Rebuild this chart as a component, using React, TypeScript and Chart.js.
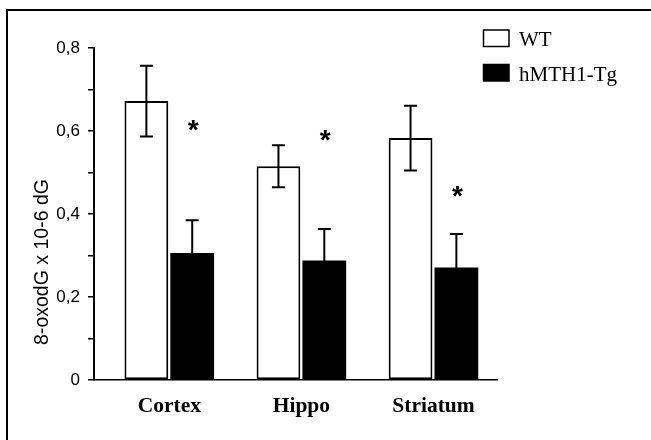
import React, { useEffect, useRef } from "react";
import { Chart, registerables } from "chart.js";

Chart.register(...registerables);

// ---- data ----
const categories = ["Cortex", "Hippo", "Striatum"];
const seriesNames = ["WT", "hMTH1-Tg"];
const wtValues = [0.672, 0.515, 0.583];
const wtErrors = [0.085, 0.0505, 0.078];
const tgValues = [0.306, 0.288, 0.271];
const tgErrors = [0.079, 0.076, 0.081];
const asteriskLevels = [0.61, 0.586, 0.451];
const yTicks = [0, 0.2, 0.4, 0.6, 0.8];
const yTickLabels = ["0", "0,2", "0,4", "0,6", "0,8"];
const yAxisTitle = "8-oxodG x 10-6 dG";

const errorsBySeries = [wtErrors, tgErrors];

const decorPlugin = {
  id: "decor",
  afterDatasetsDraw(chart: any) {
    const ctx = chart.ctx;
    const yScale = chart.scales.y;
    ctx.save();
    // error bars
    chart.data.datasets.forEach((ds: any, di: number) => {
      const meta = chart.getDatasetMeta(di);
      meta.data.forEach((bar: any, i: number) => {
        const v = ds.data[i].y;
        const e = errorsBySeries[di][i];
        const yTop = yScale.getPixelForValue(v + e);
        const yBot = yScale.getPixelForValue(v - e);
        const x = bar.x;
        ctx.strokeStyle = "#000";
        ctx.lineWidth = 2;
        ctx.beginPath();
        ctx.moveTo(x, yTop);
        ctx.lineTo(x, yBot);
        ctx.moveTo(x - 6.5, yTop);
        ctx.lineTo(x + 6.5, yTop);
        ctx.moveTo(x - 6.5, yBot);
        ctx.lineTo(x + 6.5, yBot);
        ctx.stroke();
      });
    });
    // asterisks above the transgenic bars
    const tgMeta = chart.getDatasetMeta(1);
    ctx.fillStyle = "#000";
    ctx.font = "bold 28px 'Liberation Sans', Arial, sans-serif";
    ctx.textAlign = "center";
    ctx.textBaseline = "alphabetic";
    tgMeta.data.forEach((bar: any, i: number) => {
      const y = yScale.getPixelForValue(asteriskLevels[i]);
      ctx.fillText("*", bar.x + 1, y + 12);
    });
    ctx.restore();
  },
  afterDraw(chart: any) {
    const ctx = chart.ctx;
    ctx.save();
    // frame (top + left edges)
    ctx.strokeStyle = "#000";
    ctx.lineWidth = 2;
    ctx.beginPath();
    ctx.moveTo(7, 440);
    ctx.lineTo(7, 10);
    ctx.lineTo(651, 10);
    ctx.stroke();

    // y axis title
    ctx.fillStyle = "#000";
    ctx.font = "19.5px 'Liberation Sans', Arial, sans-serif";
    ctx.textAlign = "center";
    ctx.textBaseline = "middle";
    ctx.translate(43, 262);
    ctx.rotate(-Math.PI / 2);
    ctx.fillText(yAxisTitle, 0, 0);
    ctx.setTransform(1, 0, 0, 1, 0, 0);

    // legend
    const boxX = 483.5;
    const boxW = 25.5;
    const boxH = 16.5;
    const rows = [30, 64.5];
    ctx.font = "21px 'Liberation Serif', 'Times New Roman', serif";
    ctx.textAlign = "left";
    ctx.textBaseline = "alphabetic";
    chart.data.datasets.forEach((ds: any, di: number) => {
      const y = rows[di];
      ctx.fillStyle = ds.backgroundColor;
      ctx.fillRect(boxX, y, boxW, boxH);
      ctx.lineWidth = 1.5;
      ctx.strokeStyle = "#000";
      ctx.strokeRect(boxX, y, boxW, boxH);
      ctx.fillStyle = "#000";
      ctx.fillText(seriesNames[di], 519, y + 16);
    });
    ctx.restore();
  },
};

export default function App() {
  const canvasRef = useRef<HTMLCanvasElement | null>(null);

  useEffect(() => {
    const canvas = canvasRef.current;
    if (!canvas) return;
    const chart = new Chart(canvas, {
      type: "bar",
      data: {
        datasets: [
          {
            label: seriesNames[0],
            data: wtValues.map((v, i) => ({ x: i, y: v })),
            backgroundColor: "#ffffff",
            borderColor: "#000000",
            borderWidth: 2,
            borderSkipped: false,
            categoryPercentage: 0.694,
            barPercentage: 0.955,
          },
          {
            label: seriesNames[1],
            data: tgValues.map((v, i) => ({ x: i, y: v })),
            backgroundColor: "#000000",
            borderWidth: 0,
            categoryPercentage: 0.694,
            barPercentage: 0.955,
          },
        ],
      },
      options: {
        animation: false,
        responsive: false,
        devicePixelRatio: 1,
        layout: { padding: { left: 0, right: 154, top: 48, bottom: 0 } },
        plugins: {
          legend: { display: false },
          tooltip: { enabled: false },
          title: { display: false },
        },
        scales: {
          x: {
            type: "linear",
            offset: false,
            min: -0.57,
            max: 2.481,
            afterFit: (s: any) => {
              s.height = 60;
            },
            afterBuildTicks: (s: any) => {
              s.ticks = categories.map((_, i) => ({ value: i }));
            },
            grid: { display: false, drawTicks: false },
            border: { display: true, color: "#000", width: 1.5 },
            ticks: {
              color: "#000",
              padding: 14,
              maxRotation: 0,
              autoSkip: false,
              font: { family: "'Liberation Serif', 'Times New Roman', serif", size: 21.5, weight: "bold" },
              callback: (v: any) => categories[Math.round(Number(v))] ?? "",
            },
          },
          y: {
            min: 0,
            max: 0.8,
            afterFit: (s: any) => {
              s.width = 94;
            },
            grid: {
              display: true,
              drawOnChartArea: false,
              drawTicks: true,
              tickLength: 6,
              color: "#000",
              lineWidth: 1.5,
            },
            border: { display: true, color: "#000", width: 2 },
            ticks: {
              stepSize: 0.1,
              padding: 8,
              color: "#000",
              font: { family: "'Liberation Sans', Arial, sans-serif", size: 17 },
              callback: (value: any) => {
                const idx = yTicks.findIndex((t) => Math.abs(t - Number(value)) < 1e-6);
                return idx >= 0 ? yTickLabels[idx] : "";
              },
            },
          },
        },
      },
      plugins: [decorPlugin],
    } as any);
    return () => chart.destroy();
  }, []);

  return (
    <div style={{ position: "absolute", left: 0, top: 0, width: 651, height: 440, background: "#fff" }}>
      <canvas ref={canvasRef} width={651} height={440} style={{ width: 651, height: 440, display: "block" }} />
    </div>
  );
}
